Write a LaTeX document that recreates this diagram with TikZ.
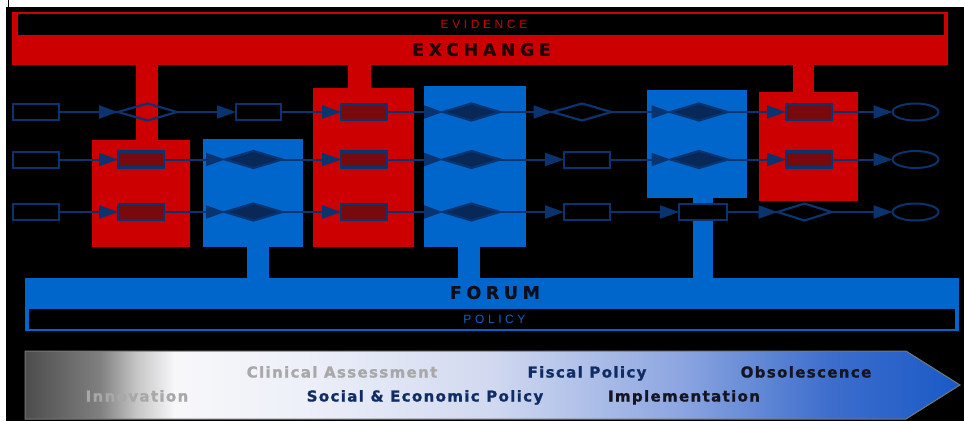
\documentclass[tikz,border=0pt]{standalone}
\usepackage{fontspec}
\setmainfont{DejaVu Sans}
\newfontfamily\titlefont{DejaVu Sans}[LetterSpace=26, BoldFeatures={FakeBold=0.8}]
\newfontfamily\subfont{Liberation Sans}[LetterSpace=30]
\newfontfamily\bandfont{DejaVu Sans}[LetterSpace=9, BoldFeatures={FakeBold=1.2}]
\usetikzlibrary{arrows.meta,shapes.geometric}
\definecolor{exred}{RGB}{204,0,0}
\definecolor{fblue}{RGB}{0,102,204}
\definecolor{navy}{RGB}{10,52,112}
\definecolor{hred}{RGB}{120,10,14}
\definecolor{hblue}{RGB}{8,40,88}
\definecolor{lightgrey}{RGB}{168,168,168}
\definecolor{textnavy}{RGB}{15,45,100}
\definecolor{textdark}{RGB}{20,20,35}
\pgfdeclarehorizontalshading{bandshade}{100bp}{%
  rgb(0bp)=(.30,.30,.30); rgb(25bp)=(.30,.30,.30); rgb(29bp)=(.50,.50,.50);
  rgb(31bp)=(.78,.78,.78); rgb(33bp)=(.97,.97,.98); rgb(40bp)=(.93,.94,.975);
  rgb(50bp)=(.82,.85,.94); rgb(60bp)=(.55,.65,.88); rgb(68bp)=(.24,.43,.80);
  rgb(75bp)=(.10,.35,.78); rgb(100bp)=(.10,.35,.78)}
\begin{document}
\begin{tikzpicture}[x=1pt,y=-1pt,
  box/.style={rectangle, inner sep=0pt, outer sep=0pt, anchor=north west},
  redbox/.style={box, fill=exred},
  bluebox/.style={box, fill=fblue},
  blackbox/.style={box, fill=black},
  plainrect/.style={rectangle, draw=navy, line width=2pt, inner sep=0pt, outer sep=0pt, minimum width=46pt, minimum height=16pt},
  hrect/.style={plainrect, fill=hred, line width=2.5pt},
  plaindia/.style={diamond, draw=navy, line width=2.2pt, inner sep=0pt, outer sep=0pt, minimum width=57pt, minimum height=17pt},
  hdia/.style={plaindia, fill=hblue},
  oval/.style={ellipse, draw=navy, line width=2pt, inner sep=0pt, outer sep=0pt, minimum width=46pt, minimum height=17pt},
  flow/.style={draw=navy, line width=2pt, -{Triangle[length=19pt,width=13pt]}},
  bigtitle/.style={font=\titlefont\bfseries\fontsize{17.5}{19}\selectfont, inner sep=0pt, text height=12.8pt, text depth=0pt},
  subtitle/.style={font=\subfont\fontsize{12}{14}\selectfont, inner sep=0pt, text height=8.6pt, text depth=0pt},
  bandtext/.style={font=\bandfont\bfseries\fontsize{15}{17}\selectfont, inner sep=0pt, text height=11pt, text depth=0pt}
]
\useasboundingbox (0,0) rectangle (964,421);
\fill[white] (0,0) rectangle (964,421);
\fill[black] (6,7) rectangle (964,421);
\draw[black, line width=1pt] (8.5,0) -- (8.5,7);

% Exchange / Evidence
\node[redbox, minimum width=936pt, minimum height=53pt] (exch) at (12,12) {};
\node[blackbox, minimum width=926pt, minimum height=21pt] (evid) at (18,14) {};
\node[subtitle, text=exred] (evidt) at (484,24.5) {EVIDENCE};
\node[bigtitle, text={rgb,255:red,35;green,5;blue,5}] (excht) at (481.5,49.5) {EXCHANGE};

% red stems
\node[redbox, minimum width=22pt, minimum height=76pt] (rs1) at (136,65) {};
\node[redbox, minimum width=23pt, minimum height=24pt] (rs2) at (348,65) {};
\node[redbox, minimum width=21pt, minimum height=28pt] (rs3) at (793,65) {};

% big boxes
\node[redbox, minimum width=98pt, minimum height=107pt] (R1) at (92,140) {};
\node[bluebox, minimum width=100pt, minimum height=108pt] (B1) at (203,139) {};
\node[redbox, minimum width=101pt, minimum height=159pt] (R2) at (313,88) {};
\node[bluebox, minimum width=102pt, minimum height=161pt] (B2) at (424,86) {};
\node[bluebox, minimum width=100pt, minimum height=108pt] (B3) at (647,90) {};
\node[redbox, minimum width=99pt, minimum height=109pt] (R3) at (759,92) {};

% blue stems
\node[bluebox, minimum width=22pt, minimum height=32pt] (bs1) at (247,246) {};
\node[bluebox, minimum width=22pt, minimum height=32pt] (bs2) at (458,246) {};
\node[bluebox, minimum width=20pt, minimum height=81pt] (bs3) at (693,197) {};

% Forum / Policy
\node[bluebox, minimum width=934pt, minimum height=53pt] (forum) at (25,278) {};
\node[blackbox, minimum width=926pt, minimum height=20pt] (pol) at (29,309) {};
\node[bigtitle, text={rgb,255:red,10;green,15;blue,30}] (forumt) at (495,292.5) {FORUM};
\node[subtitle, text=fblue] (polt) at (494.5,319) {POLICY};

% Row 1
\node[plainrect] (a1) at (36,112) {};
\node[plaindia, minimum width=59pt] (a2) at (147.5,112) {};
\node[plainrect, minimum width=45pt] (a3) at (258.5,112) {};
\node[hrect] (a4) at (364,112) {};
\node[hdia] (a5) at (471.5,112) {};
\node[plaindia, minimum width=59pt] (a6) at (582,112) {};
\node[hdia] (a7) at (699,112) {};
\node[hrect] (a8) at (809,112) {};
\node[oval] (a9) at (915.5,112) {};
% Row 2
\node[plainrect] (b1) at (36,159.5) {};
\node[hrect] (b2) at (141,159.5) {};
\node[hdia] (b3) at (253.5,159.5) {};
\node[hrect] (b4) at (364,159.5) {};
\node[hdia] (b5) at (471.5,159.5) {};
\node[plainrect] (b6) at (587,159.5) {};
\node[hdia] (b7) at (699,159.5) {};
\node[hrect] (b8) at (809,159.5) {};
\node[oval] (b9) at (915.5,159.5) {};
% Row 3
\node[plainrect] (c1) at (36,212) {};
\node[hrect] (c2) at (141,212) {};
\node[hdia] (c3) at (253.5,212) {};
\node[hrect] (c4) at (364,212) {};
\node[hdia] (c5) at (471.5,212) {};
\node[plainrect] (c6) at (587,212) {};
\node[plainrect, fill=black, minimum width=48pt] (c7) at (703,212) {};
\node[plaindia, minimum width=54pt] (c8) at (804.5,212) {};
\node[oval] (c9) at (915.5,212) {};

\foreach \r in {a,b,c}{
  \foreach \i [evaluate=\i as \j using int(\i+1)] in {1,...,8}{
    \draw[flow] (\r\i.east) -- (\r\j.west);
  }
}

% bottom band
\path[shading=bandshade, draw={rgb,255:red,120;green,120;blue,120}, line width=1pt]
  (25,351) -- (906,351) -- (960,385) -- (906,419) -- (25,419) -- cycle;
\node[bandtext, text=lightgrey] (innov) at (137,396) {Innovation};
\node[bandtext, text=lightgrey] (clin) at (342,372) {Clinical Assessment};
\node[bandtext, text=textnavy] (socec) at (425,396) {Social \& Economic Policy};
\node[bandtext, text=textnavy] (fisc) at (587,372) {Fiscal Policy};
\node[bandtext, text=textdark] (impl) at (684,396) {Implementation};
\node[bandtext, text=textdark] (obso) at (806,372) {Obsolescence};
\end{tikzpicture}
\end{document}
